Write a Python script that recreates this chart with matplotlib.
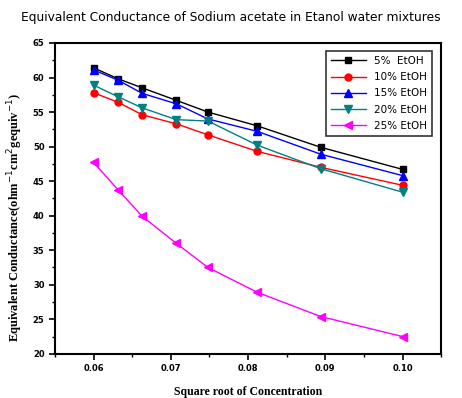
import matplotlib
matplotlib.use("Agg")
import matplotlib.pyplot as plt
from matplotlib.ticker import MultipleLocator

# racine carree de la concentration
x_values = [0.0600, 0.0632, 0.0663, 0.0707, 0.0748, 0.0812, 0.0894, 0.1000]

etoh_5 = [61.4, 59.8, 58.5, 56.7, 55.0, 53.0, 49.9, 46.7]
etoh_10 = [57.8, 56.4, 54.6, 53.3, 51.7, 49.3, 47.0, 44.4]
etoh_15 = [61.1, 59.6, 57.7, 56.2, 54.0, 52.2, 48.9, 45.8]
etoh_20 = [58.9, 57.2, 55.6, 53.9, 53.7, 50.2, 46.8, 43.4]
etoh_25 = [47.7, 43.7, 39.9, 36.0, 32.5, 28.9, 25.4, 22.5]

labels = ["5%  EtOH", "10% EtOH", "15% EtOH", "20% EtOH", "25% EtOH"]

fig = plt.figure(figsize=(4.62, 3.98), dpi=100)
ax = fig.add_axes([0.119, 0.111, 0.836, 0.781])

ax.plot(x_values, etoh_5, color='black', marker='s', ms=5, lw=1, label=labels[0])
ax.plot(x_values, etoh_10, color='red', marker='o', ms=5, lw=1, label=labels[1])
ax.plot(x_values, etoh_15, color='blue', marker='^', ms=5.5, lw=1, label=labels[2])
ax.plot(x_values, etoh_20, color='#008080', marker='v', ms=5.5, lw=1, label=labels[3])
ax.plot(x_values, etoh_25, color='magenta', marker='<', ms=5.5, lw=1, label=labels[4])

ax.set_xlim(0.055, 0.105)
ax.set_ylim(20, 65)
ax.xaxis.set_major_locator(MultipleLocator(0.01))
ax.xaxis.set_minor_locator(MultipleLocator(0.005))
ax.yaxis.set_major_locator(MultipleLocator(5))
ax.yaxis.set_minor_locator(MultipleLocator(2.5))
ax.xaxis.set_major_formatter(plt.FuncFormatter(lambda v, p: "%.2f" % v))

ax.tick_params(axis='both', which='major', direction='out', length=4, width=1.2,
               labelsize=6)
ax.tick_params(axis='both', which='minor', direction='out', length=2.5, width=1)
for t in ax.get_xticklabels() + ax.get_yticklabels():
    t.set_fontweight('bold')
for s in ax.spines.values():
    s.set_linewidth(1.5)

ax.set_xlabel("Square root of Concentration", fontsize=8.5, family='Liberation Serif',
              fontweight='bold', labelpad=9)
ax.set_ylabel("Equivalent Conductance(ohm$^{-1}$cm$^{2}$gequiv$^{-1}$)", fontsize=9,
              family='Liberation Serif', fontweight='bold')
ax.yaxis.set_label_coords(-0.078, 0.44)
fig.text(0.5, 0.955, "Equivalent Conductance of Sodium acetate in Etanol water mixtures",
         ha='center', va='center', fontsize=8.8)

leg = ax.legend(loc='upper right', fontsize=7.5, frameon=True, fancybox=False,
                edgecolor='black', handlelength=3.4, borderpad=0.45,
                labelspacing=0.6, bbox_to_anchor=(0.99, 0.99))
leg.get_frame().set_linewidth(1.2)

plt.savefig('out.png', dpi=100)
